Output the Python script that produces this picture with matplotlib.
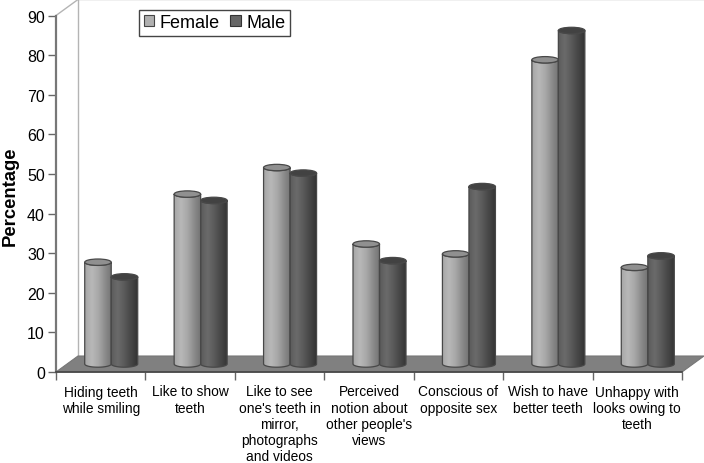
import numpy as np
import matplotlib
matplotlib.use("Agg")
import matplotlib.pyplot as plt
from matplotlib.patches import Patch, PathPatch, Polygon, Ellipse
from matplotlib.path import Path
from matplotlib.colors import LinearSegmentedColormap

categories = ["Hiding teeth\nwhile smiling", "Like to show\nteeth",
              "Like to see\none's teeth in\nmirror,\nphotographs\nand videos",
              "Perceived\nnotion about\nother people's\nviews",
              "Conscious of\nopposite sex", "Wish to have\nbetter teeth",
              "Unhappy with\nlooks owing to\nteeth"]
female = [25.7, 42.9, 49.6, 30.3, 27.8, 76.8, 24.4]
male = [22.0, 41.3, 48.2, 26.1, 44.8, 84.2, 27.3]
yticks = list(range(0, 100, 10))

plt.rcParams["font.family"] = ["Liberation Sans", "DejaVu Sans"]
W, H = 704, 464
fig = plt.figure(figsize=(W / 100, H / 100), dpi=100)
L, R, T, B = 56, 682, 16.5, 373
ax = fig.add_axes([L / W, 1 - B / H, (R - L) / W, (B - T) / H])
n = len(categories)
ax.set_xlim(0, n)
ax.set_ylim(0, 90)
px, py = n / (R - L), 90 / (B - T)
dx, dy = 22 * px, 16 * py

# walls and floor
wall = "#b4b4b4"
ax.plot([0, dx, n + dx], [90, 90 + dy, 90 + dy], color=wall, lw=1, clip_on=False, zorder=1)
ax.plot([dx, dx], [dy, 90 + dy], color=wall, lw=1, clip_on=False, zorder=1)
ax.add_patch(Polygon([(0, 0), (dx, dy), (n + dx, dy), (n, 0)], closed=True, fc="#808080",
                     ec="#777777", lw=0.8, clip_on=False, zorder=1))

cm_f = LinearSegmentedColormap.from_list("f", ["#a6a6a6", "#b8b8b8", "#a8a8a8", "#8c8c8c", "#727272"])
cm_m = LinearSegmentedColormap.from_list("m", ["#5c5c5c", "#6a6a6a", "#5a5a5a", "#464646", "#323232"])
grad = np.linspace(0, 1, 128)[None, :]

bw = 26.5 * px
base = 8 * py
ry = 3.2 * py
off = 10.5 * px


def cylinder(x0, val, cmap, topc):
    xc = x0 + bw / 2
    t = np.linspace(np.pi, 2 * np.pi, 40)
    xs = xc + bw / 2 * np.cos(t)
    low = base + ry * np.sin(t)
    top = base + val
    upper = top + ry * np.sin(t[::-1])
    verts = np.r_[np.c_[xs, low], np.c_[xs[::-1], upper], [[xs[0], low[0]]]]
    path = Path(verts)
    im = ax.imshow(grad, extent=(x0, x0 + bw, 0, top + ry), aspect="auto", cmap=cmap,
                   vmin=0, vmax=1, zorder=3, clip_on=True)
    patch = PathPatch(path, fc="none", ec="#484848", lw=0.9, zorder=4, clip_on=False)
    ax.add_patch(patch)
    im.set_clip_path(patch)
    ax.add_patch(Ellipse((xc, top), bw, 2 * ry, fc=topc, ec="#484848", lw=0.9, zorder=4, clip_on=False))


for i, (f, m) in enumerate(zip(female, male)):
    c = i + 0.5 + off
    cylinder(c - bw, f, cm_f, "#909090")
    cylinder(c, m, cm_m, "#424242")
ax.set_xlim(0, n)
ax.set_ylim(0, 90)

for s in ["top", "right"]:
    ax.spines[s].set_visible(False)
ax.spines["left"].set_color("#777777")
ax.spines["left"].set_linewidth(1.6)
ax.spines["bottom"].set_color("#444444")
ax.spines["bottom"].set_linewidth(1.2)
ax.spines["left"].set_zorder(2)
ax.spines["bottom"].set_zorder(2)

ax.set_yticks(yticks)
ax.tick_params(axis="y", length=6, width=1, color="#666666", labelsize=11.5, pad=2)
ax.set_xticks(range(n + 1))
ax.set_xticklabels([])
ax.tick_params(axis="x", which="major", length=6, width=1, color="#666666")
ax.set_xticks(np.arange(n) + 0.5, minor=True)
ax.set_xticklabels(categories, minor=True, fontsize=9.9, linespacing=1.2)
ax.tick_params(axis="x", which="minor", length=0, pad=9)

fig.text(10 / W, 1 - 196 / H, "Percentage", rotation=90, fontsize=13.3, fontweight="bold",
         ha="center", va="center")

handles = [Patch(fc="#b0b0b0", ec="#444444", lw=0.8, label="Female"),
           Patch(fc="#666666", ec="#333333", lw=0.8, label="Male")]
leg = fig.legend(handles=handles, ncol=2, loc="upper left",
                 bbox_to_anchor=(139 / W, 1 - 10.5 / H), fontsize=13, frameon=True, fancybox=False,
                 edgecolor="#444444", facecolor="white", framealpha=1, handlelength=0.6,
                 handleheight=0.6, handletextpad=0.3, columnspacing=0.55, borderpad=0.25,
                 borderaxespad=0)
leg.get_frame().set_linewidth(1)
fig.savefig("out.png", dpi=100)
